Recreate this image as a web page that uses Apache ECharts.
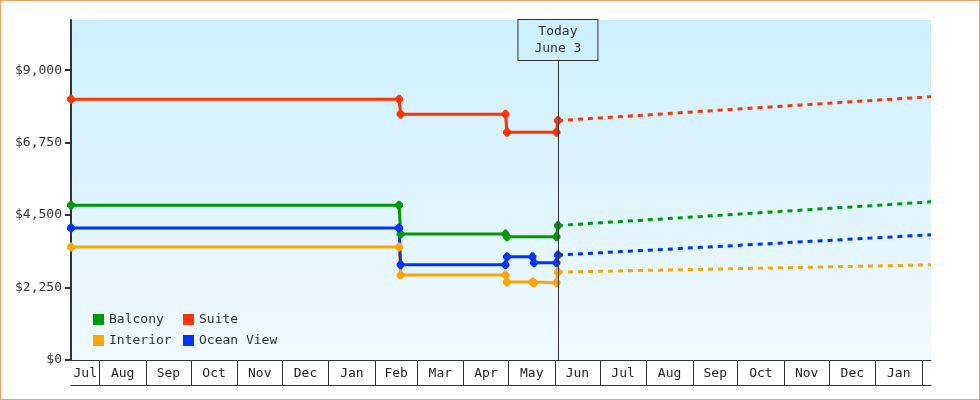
<!DOCTYPE html>
<html><head><meta charset="utf-8">
<script src="https://cdn.jsdelivr.net/npm/echarts@6/dist/echarts.min.js"></script>
<style>
html,body{margin:0;padding:0;background:#fff}
#wrap{position:relative;width:980px;height:400px}
#c{width:980px;height:400px}
#frame{position:absolute;left:0;top:0;width:980px;height:400px;box-sizing:border-box;border:1px solid #e8a862;pointer-events:none}
</style></head><body>
<div id="wrap"><div id="c"></div><div id="frame"></div></div>
<script>
// ---- data ----
const axisStart = '2022-07-13';
const axisEnd = '2024-02-07';
const today = '2023-06-03';
const todayLabel = 'Today\nJune 3';
const todayLineTop = 9318;

const monthStarts = ['2022-08-01','2022-09-01','2022-10-01','2022-11-01','2022-12-01','2023-01-01',
  '2023-02-01','2023-03-01','2023-04-01','2023-05-01','2023-06-01','2023-07-01','2023-08-01',
  '2023-09-01','2023-10-01','2023-11-01','2023-12-01','2024-01-01','2024-02-01'];
const monthNames = ['Jan','Feb','Mar','Apr','May','Jun','Jul','Aug','Sep','Oct','Nov','Dec'];
const yTicks = [0, 2250, 4500, 6750, 9000];

const seriesNames = ['Balcony','Suite','Interior','Ocean View'];
const seriesColors = ['#009900','#ff3300','#ffa500','#0033ff'];

const balconyPrices = [['2022-07-13',4810],['2023-02-17',4810],['2023-02-18',3910],['2023-04-29',3910],
  ['2023-04-30',3826],['2023-06-02',3826],['2023-06-03',4177]];
const suitePrices = [['2022-07-13',8100],['2023-02-17',8100],['2023-02-18',7635],['2023-04-29',7635],
  ['2023-04-30',7075],['2023-06-02',7075],['2023-06-03',7435]];
const interiorPrices = [['2022-07-13',3506],['2023-02-17',3506],['2023-02-18',2638],['2023-04-29',2638],
  ['2023-04-30',2420],['2023-05-17',2420],['2023-05-18',2400],['2023-06-02',2400],['2023-06-03',2731]];
const oceanPrices = [['2022-07-13',4096],['2023-02-17',4096],['2023-02-18',2957],['2023-04-29',2957],
  ['2023-04-30',3205],['2023-05-17',3205],['2023-05-18',3019],['2023-06-02',3019],['2023-06-03',3258]];

const forecastDates = ['2023-06-03','2023-07-01','2023-08-01','2023-09-01','2023-10-01','2023-11-01',
  '2023-12-01','2024-01-01','2024-02-01','2024-02-07'];
const balconyForecast = [4177,4260,4350,4440,4530,4620,4710,4800,4895,4912];
const suiteForecast = [7435,7520,7610,7705,7795,7885,7975,8070,8160,8180];
const interiorForecast = [2731,2755,2785,2810,2840,2865,2895,2920,2950,2957];
const oceanForecast = [3258,3330,3405,3485,3560,3640,3715,3795,3873,3888];

// ---- build ----
const FONT = '"DejaVu Sans Mono", monospace';
const MARKER = 'path://M3,0 L5,0 L8,3 L8,5 L5,8 L3,8 L0,5 L0,3 Z';
const ts = d => new Date(d + 'T00:00:00').getTime();
const bounds = [ts(axisStart)].concat(monthStarts.map(ts)).concat([ts(axisEnd)]);
const labelPos = [];
for (let i = 0; i < bounds.length - 1; i++) {
  if (bounds[i+1] - bounds[i] > 10 * 86400000) labelPos.push((bounds[i] + bounds[i+1]) / 2);
}

const actual = [balconyPrices, suitePrices, interiorPrices, oceanPrices];
const forecast = [balconyForecast, suiteForecast, interiorForecast, oceanForecast];

const series = [];
actual.forEach((arr, i) => {
  series.push({
    name: seriesNames[i], type: 'line', xAxisIndex: 0,
    data: arr.map(p => [ts(p[0]), p[1]]),
    symbol: MARKER, symbolSize: [8, 9], showAllSymbol: true,
    lineStyle: {width: 3, color: seriesColors[i]},
    itemStyle: {color: seriesColors[i]},
    z: 3
  });
});
forecast.forEach((arr, i) => {
  series.push({
    name: seriesNames[i], type: 'line', xAxisIndex: 0,
    data: arr.map((v, k) => [ts(forecastDates[k]), v]),
    showSymbol: false, symbol: 'none',
    lineStyle: {width: 3, color: seriesColors[i], type: [5, 5]},
    itemStyle: {color: seriesColors[i]},
    z: 2
  });
});
series.push({
  type: 'line', xAxisIndex: 0, data: [], silent: true,
  markLine: {
    silent: true, symbol: ['none','none'], animation: false,
    lineStyle: {color: '#333', width: 1, type: 'solid'},
    label: {
      show: true, position: 'end', distance: 0, formatter: todayLabel,
      fontFamily: FONT, fontSize: 13, color: '#333', lineHeight: 17,
      backgroundColor: '#cdf0fe', borderColor: '#333', borderWidth: 1,
      padding: [3, 16, 3, 16], align: 'center'
    },
    data: [[{coord: [ts(today), 0]}, {coord: [ts(today), todayLineTop]}]]
  }
});

const legendBase = {
  orient: 'vertical', icon: 'rect', itemWidth: 11, itemHeight: 11, itemGap: 8, padding: 0,
  textStyle: {fontFamily: FONT, fontSize: 13, color: '#333'},
  top: 313
};

const chart = echarts.init(document.getElementById('c'), null, {renderer: 'canvas'});
chart.setOption({
  animation: false,
  backgroundColor: '#fff',
  grid: {
    left: 71, right: 49, top: 20, bottom: 40, show: true, borderWidth: 0,
    backgroundColor: new echarts.graphic.LinearGradient(0, 0, 0, 1, [
      {offset: 0, color: '#cdf0fe'}, {offset: 1, color: '#f0f9ff'}
    ])
  },
  legend: [
    Object.assign({}, legendBase, {left: 93, data: ['Balcony','Interior']}),
    Object.assign({}, legendBase, {left: 183, data: ['Suite','Ocean View']})
  ],
  xAxis: [{
    type: 'value', min: ts(axisStart), max: ts(axisEnd),
    axisLine: {show: true, lineStyle: {color: '#333', width: 1}},
    axisTick: {show: true, length: 25, lineStyle: {color: '#333', width: 1},
      customValues: monthStarts.map(ts)},
    axisLabel: {show: true, customValues: labelPos, margin: 7,
      fontFamily: FONT, fontSize: 13, color: '#222',
      formatter: v => monthNames[new Date(v).getMonth()]},
    splitLine: {show: false}
  }, {
    type: 'value', position: 'bottom', offset: 25, min: 0, max: 1,
    axisLine: {show: true, lineStyle: {color: '#333', width: 1}},
    axisTick: {show: false}, axisLabel: {show: false}, splitLine: {show: false}
  }],
  yAxis: {
    type: 'value', min: 0, max: 10560,
    axisLine: {show: true, lineStyle: {color: '#333', width: 2}},
    axisTick: {show: true, length: 6, lineStyle: {color: '#333', width: 2}, customValues: yTicks},
    axisLabel: {customValues: yTicks, margin: 9, fontFamily: FONT, fontSize: 13, color: '#333',
      formatter: v => '$' + v.toLocaleString('en-US')},
    splitLine: {show: false}
  },
  series: series
});
</script>
</body></html>
